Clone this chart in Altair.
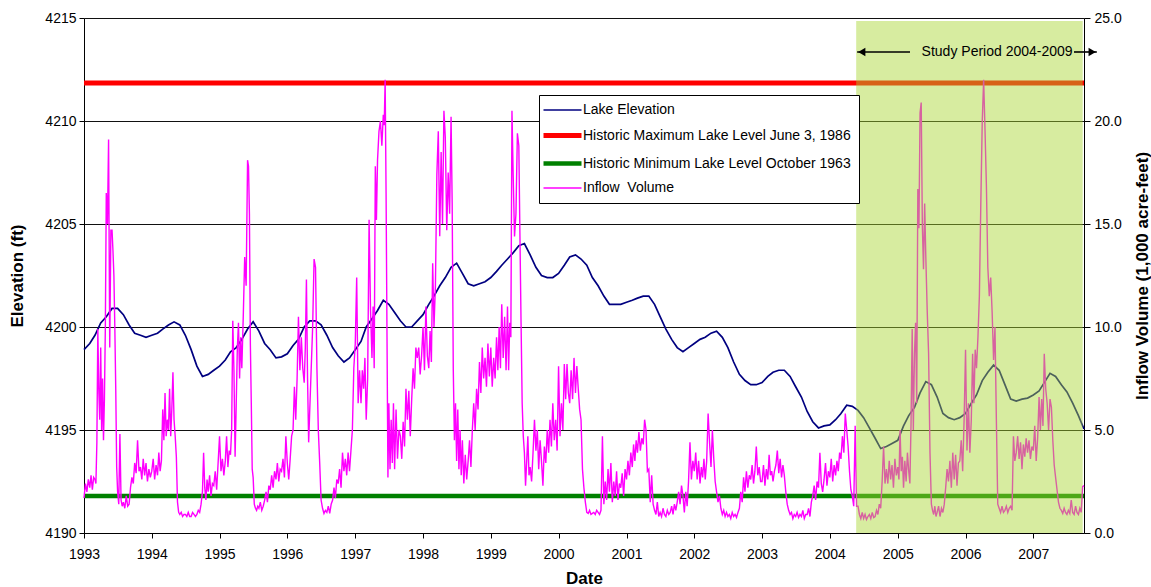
import altair as alt
import pandas as pd

FONT = "Liberation Sans"

# ---------------- series names / styles ----------------
series_names = ["Lake Elevation",
                "Historic Maximum Lake Level June 3, 1986",
                "Historic Minimum Lake Level October 1963",
                "Inflow\u00a0 Volume"]
series_colors = ["#000080", "#ff0000", "#008000", "#ff00ff"]
series_widths = [1.7, 5.0, 4.5, 1.4]

tick_years = list(range(1993, 2008))
elev_ticks = [4190, 4195, 4200, 4205, 4210, 4215]
inflow_ticks = [0, 5, 10, 15, 20, 25]

x_start = "1993-01-01"
x_end = "2007-10-01"
hist_max = 4211.85
hist_min = 4191.8

# ---------------- lake elevation (ft), first of each month ----------------
lake_1993 = [4198.9, 4199.2, 4199.6, 4200.2, 4200.5, 4200.9, 4200.9, 4200.6, 4200.1, 4199.7, 4199.6, 4199.5]
lake_1994 = [4199.6, 4199.7, 4199.9, 4200.1, 4200.25, 4200.1, 4199.6, 4198.9, 4198.1, 4197.6, 4197.7, 4197.9]
lake_1995 = [4198.1, 4198.4, 4198.8, 4199.0, 4199.4, 4199.9, 4200.25, 4199.8, 4199.2, 4198.9, 4198.5, 4198.55]
lake_1996 = [4198.7, 4199.1, 4199.4, 4200.0, 4200.3, 4200.3, 4200.1, 4199.6, 4199.0, 4198.6, 4198.3, 4198.5]
lake_1997 = [4198.9, 4199.3, 4200.0, 4200.4, 4200.8, 4201.3, 4201.1, 4200.7, 4200.3, 4200.0, 4200.0, 4200.3]
lake_1998 = [4200.6, 4201.1, 4201.5, 4202.0, 4202.4, 4202.9, 4203.1, 4202.6, 4202.1, 4202.0, 4202.1, 4202.2]
lake_1999 = [4202.4, 4202.7, 4203.0, 4203.3, 4203.6, 4203.95, 4204.05, 4203.5, 4202.9, 4202.5, 4202.4, 4202.4]
lake_2000 = [4202.6, 4203.0, 4203.4, 4203.5, 4203.3, 4203.0, 4202.4, 4202.0, 4201.5, 4201.1, 4201.1, 4201.1]
lake_2001 = [4201.2, 4201.3, 4201.4, 4201.5, 4201.5, 4201.1, 4200.5, 4199.9, 4199.4, 4199.0, 4198.8, 4199.0]
lake_2002 = [4199.2, 4199.4, 4199.5, 4199.7, 4199.8, 4199.5, 4199.0, 4198.3, 4197.7, 4197.4, 4197.2, 4197.2]
lake_2003 = [4197.3, 4197.6, 4197.8, 4197.9, 4197.9, 4197.6, 4197.1, 4196.6, 4195.9, 4195.4, 4195.1, 4195.2]
lake_2004 = [4195.25, 4195.5, 4195.8, 4196.2, 4196.15, 4195.95, 4195.6, 4195.1, 4194.6, 4194.1, 4194.2, 4194.35]
lake_2005 = [4194.5, 4195.2, 4195.7, 4196.1, 4196.8, 4197.35, 4197.2, 4196.6, 4195.8, 4195.6, 4195.5, 4195.6]
lake_2006 = [4195.8, 4196.3, 4196.7, 4197.4, 4197.8, 4198.15, 4197.9, 4197.2, 4196.5, 4196.4, 4196.5, 4196.55]
lake_2007 = [4196.7, 4196.9, 4197.3, 4197.75, 4197.6, 4197.2, 4196.85, 4196.3, 4195.7, 4195.05]

# ---------------- inflow volume (1,000 acre-feet), readings within each month ----------------
inflow_1993 = [[1.7, 2.4, 2.0, 2.6], [2.2, 2.8, 2.1, 2.7], [2.6, 2.4, 4.4, 9.9, 6.9, 5.5],
               [9.0, 5.0, 7.5, 4.5, 6.5, 10.0], [16.5, 15.0, 19.1, 9.0, 14.7], [14.7, 13.7, 12.5, 10.0, 7.0, 3.2],
               [2.0, 1.4, 4.8, 1.6, 1.3], [1.5, 1.2, 1.8, 1.3], [1.4, 2.2, 2.7, 2.4],
               [3.4, 2.9, 4.5, 3.0], [3.2, 2.6, 3.6, 2.8], [3.4, 2.5, 3.1, 2.7]]
inflow_1994 = [[3.0, 3.6, 2.6, 3.3], [2.8, 3.9, 3.0, 3.5], [6.0, 4.5, 6.8, 4.7, 5.5],
               [5.0, 7.0, 4.7, 6.0, 7.8], [5.5, 4.7, 3.7, 1.5, 1.0], [0.9, 1.0, 0.8, 0.9],
               [0.9, 0.8, 1.0, 0.8], [0.8, 1.0, 0.9, 0.8], [0.9, 1.1, 1.0, 1.4],
               [2.0, 3.9, 2.2, 1.6, 2.6], [2.0, 2.8, 1.8, 2.4], [2.3, 3.0, 2.1, 3.4]]
inflow_1995 = [[4.7, 3.0, 3.6, 2.8], [3.5, 4.7, 3.2, 4.0], [3.8, 5.0, 10.3, 7.9, 3.7],
               [6.3, 9.0, 10.2, 7.5, 9.5], [8.0, 10.5, 13.4, 12.0], [18.1, 17.8, 15.5, 9.2, 6.3, 3.1],
               [2.7, 1.4, 1.2, 1.1, 1.3], [1.2, 1.5, 1.1, 1.3], [1.6, 2.0, 1.5, 2.3],
               [2.1, 2.8, 2.2, 3.0], [2.6, 3.4, 2.5, 3.1], [3.0, 3.6, 2.7, 4.7]]
inflow_1996 = [[3.4, 2.6, 3.6, 4.7], [5.0, 7.1, 5.5, 7.5], [10.5, 7.9, 9.5, 8.0],
               [7.3, 9.0, 12.3, 7.5, 4.4], [6.0, 8.0, 10.0, 13.3], [12.9, 8.0, 5.0, 3.4],
               [1.6, 1.2, 0.95, 1.1], [1.0, 1.3, 0.95, 1.4], [1.6, 2.2, 1.7, 2.6],
               [2.4, 3.1, 2.2, 3.9], [3.0, 3.6, 2.8, 3.9], [3.0, 4.0, 5.0, 8.0]]
inflow_1997 = [[9.2, 12.4, 6.3, 7.9], [6.3, 7.9, 7.0, 8.5], [5.5, 7.5, 15.2, 10.8],
               [8.5, 11.0, 8.0, 17.8, 15.2], [18.1, 19.5, 20.0, 18.8], [20.3, 19.8, 22.0, 16.5, 9.5, 2.7],
               [6.3, 3.1, 5.5, 3.4, 6.3], [3.1, 6.0, 3.6, 5.0], [4.7, 3.6, 5.4, 4.2],
               [7.0, 5.5, 6.9, 4.7], [6.5, 8.0, 7.0, 9.0], [8.5, 9.0, 7.7, 8.6]]
inflow_1998 = [[10.0, 7.9, 11.0, 8.6], [8.0, 9.8, 8.3, 13.1], [10.0, 12.0, 17.4, 19.5],
               [14.4, 18.5, 15.0, 20.5], [19.2, 14.7, 17.5, 15.5], [20.2, 16.0, 7.9, 4.5, 6.3],
               [3.5, 6.0, 3.1, 5.0, 2.8], [4.5, 2.4, 3.8, 2.6], [3.5, 4.5, 3.2, 5.0],
               [6.3, 5.0, 7.0, 6.0], [8.3, 6.8, 9.0, 7.5], [8.5, 7.1, 9.2, 7.6]]
inflow_1999 = [[9.0, 7.1, 8.5, 7.5], [9.5, 7.9, 10.0, 8.0], [11.1, 8.5, 10.5, 7.9],
               [11.0, 7.9, 10.2, 9.5, 20.5], [17.6, 14.4, 15.5, 19.4], [18.8, 14.4, 10.2, 6.3, 4.7],
               [3.9, 2.3, 3.5, 4.7, 2.8], [3.2, 2.5, 3.9, 5.5], [4.0, 5.0, 3.1, 4.5],
               [3.5, 2.3, 4.2, 3.4], [5.0, 3.9, 5.5, 4.2], [6.3, 4.5, 5.5, 4.0]]
inflow_2000 = [[8.1, 4.7, 6.3, 5.0], [8.2, 6.5, 8.2, 6.8], [6.3, 7.9, 6.5, 8.5],
               [6.8, 8.1, 7.0, 6.0], [5.5, 3.1, 2.2, 1.5], [1.0, 0.95, 1.1, 0.9],
               [0.95, 1.0, 0.9, 1.1], [1.0, 0.9, 1.1, 4.7], [1.4, 2.5, 1.6, 3.1],
               [2.0, 3.4, 1.5, 2.5], [1.8, 3.0, 1.6, 2.4], [2.2, 2.9, 1.8, 3.1]]
inflow_2001 = [[2.6, 3.5, 2.8, 3.9], [3.2, 4.3, 3.5, 4.5], [3.9, 4.9, 4.0, 4.6],
               [4.3, 5.5, 5.0, 3.0], [3.1, 1.5, 2.8, 1.4], [1.1, 0.9, 1.5, 0.8],
               [1.0, 0.8, 1.2, 0.9], [0.8, 1.1, 0.9, 1.0], [1.3, 0.9, 1.4, 1.1],
               [1.5, 2.0, 1.4, 2.3], [1.8, 1.0, 2.0, 1.3], [2.5, 4.4, 2.6, 3.5]]
inflow_2002 = [[3.0, 3.9, 2.6, 3.5], [2.4, 3.2, 2.7, 3.6], [2.6, 3.5, 5.8, 4.4],
               [3.2, 5.0, 3.6, 2.5], [2.0, 1.5, 1.8, 1.2], [0.9, 1.1, 0.8, 1.0],
               [0.8, 0.9, 0.7, 1.0], [0.8, 0.9, 0.75, 1.0], [1.2, 2.0, 1.5, 2.7],
               [2.0, 3.0, 2.2, 2.8], [2.6, 3.3, 2.4, 3.0], [4.2, 2.8, 3.2, 2.5]]
inflow_2003 = [[2.5, 3.3, 2.3, 3.1], [2.6, 3.8, 2.8, 3.0], [2.5, 3.0, 3.3, 4.0],
               [2.9, 3.6, 2.7, 3.3], [2.8, 2.0, 1.4, 1.1], [0.9, 1.0, 0.7, 0.9],
               [0.8, 1.0, 0.75, 0.9], [0.8, 1.1, 0.7, 0.9], [0.9, 1.2, 0.8, 1.5],
               [1.8, 2.3, 1.6, 2.5], [2.2, 3.9, 2.4, 2.0], [2.6, 3.4, 2.3, 3.0]]
inflow_2004 = [[2.7, 3.6, 2.5, 3.3], [2.8, 3.5, 3.0, 3.9], [3.6, 4.7, 3.9, 5.8],
               [5.0, 4.2, 3.0, 2.1], [1.8, 1.3, 5.2, 1.3], [1.3, 0.9, 0.7, 1.0],
               [0.7, 0.9, 0.65, 0.8], [0.9, 0.7, 1.0, 0.75], [0.8, 1.1, 0.9, 1.4],
               [1.2, 2.5, 4.2, 2.4], [3.1, 2.4, 3.5, 2.6], [3.3, 2.2, 3.6, 2.8]]
inflow_2005 = [[3.2, 2.6, 5.0, 3.0, 3.7], [2.2, 3.5, 2.5, 3.9], [3.0, 2.4, 5.3, 9.9, 5.0],
               [8.7, 10.2, 6.3, 16.7, 14.8], [20.4, 20.9, 14.9, 12.8, 16.0], [13.4, 10.8, 8.7, 3.9],
               [1.4, 1.1, 0.9, 1.3, 0.8], [1.0, 1.3, 0.8, 1.2], [1.0, 1.4, 2.2, 3.1],
               [2.5, 3.5, 2.2, 3.9], [2.6, 3.8, 2.3, 3.4], [3.5, 4.5, 3.0, 5.5]]
inflow_2006 = [[8.9, 4.0, 6.3, 3.9], [5.5, 8.7, 6.3, 8.9], [8.0, 9.5, 11.5, 16.0],
               [20.0, 22.0, 19.5, 16.8], [12.9, 11.5, 12.4, 10.7], [8.4, 10.0, 5.5, 1.4],
               [1.2, 1.0, 1.3, 1.0], [1.1, 1.3, 1.0, 1.2], [1.3, 1.1, 4.7, 3.5],
               [3.9, 4.7, 3.6, 4.4], [3.1, 4.3, 3.7, 4.6], [3.9, 4.5, 3.6, 4.2]]
inflow_2007 = [[4.0, 5.2, 3.5, 4.6], [6.6, 5.0, 6.5, 5.2], [8.7, 7.0, 6.3, 5.0],
               [6.5, 6.1, 4.5, 3.3], [2.7, 2.1, 1.5, 1.2], [1.1, 0.95, 1.2, 1.0],
               [0.9, 1.1, 0.95, 1.6], [1.0, 0.9, 1.3, 1.0], [0.9, 1.2, 1.0, 2.25], [2.3]]

# ---------------- study period annotation ----------------
study_start = "2004-05-22"
study_end = "2007-09-24"
study_top = 4214.85
study_label = "Study Period 2004-2009"
label_date = "2006-06-20"
label_elev = 4213.35
arrow_left = ["2004-05-27", "2005-03-08"]    # tip, tail
arrow_right = ["2007-08-08", "2007-12-09"]   # tail, tip

# ---------------- build tables ----------------
lake_lists = [lake_1993, lake_1994, lake_1995, lake_1996, lake_1997, lake_1998, lake_1999, lake_2000,
              lake_2001, lake_2002, lake_2003, lake_2004, lake_2005, lake_2006, lake_2007]
inflow_lists = [inflow_1993, inflow_1994, inflow_1995, inflow_1996, inflow_1997, inflow_1998, inflow_1999,
                inflow_2000, inflow_2001, inflow_2002, inflow_2003, inflow_2004, inflow_2005, inflow_2006,
                inflow_2007]

lake_rows = []
for yr, vals in zip(tick_years, lake_lists):
    for m, v in enumerate(vals):
        lake_rows.append({"date": pd.Timestamp(yr, m + 1, 1), "elev": v, "series": series_names[0]})
lake_df = pd.DataFrame(lake_rows)

inflow_rows = []
for yr, months in zip(tick_years, inflow_lists):
    for m, vals in enumerate(months):
        start = pd.Timestamp(yr, m + 1, 1)
        end = start + pd.offsets.MonthBegin(1)
        n = len(vals)
        for i, v in enumerate(vals):
            inflow_rows.append({"date": start + (end - start) * (i / n), "inflow": v,
                                "series": series_names[3]})
inflow_df = pd.DataFrame(inflow_rows)

hist_df = pd.DataFrame([
    {"date": pd.Timestamp(x_start), "elev": hist_max, "series": series_names[1]},
    {"date": pd.Timestamp(x_end), "elev": hist_max, "series": series_names[1]},
    {"date": pd.Timestamp(x_start), "elev": hist_min, "series": series_names[2]},
    {"date": pd.Timestamp(x_end), "elev": hist_min, "series": series_names[2]},
])

band_df = pd.DataFrame([{"start": pd.Timestamp(study_start), "end": pd.Timestamp(study_end),
                         "top": study_top, "bottom": 4190}])
arrow_df = pd.DataFrame([
    {"a": pd.Timestamp(arrow_left[0]), "b": pd.Timestamp(arrow_left[1]), "elev": label_elev},
    {"a": pd.Timestamp(arrow_right[0]), "b": pd.Timestamp(arrow_right[1]), "elev": label_elev},
])
head_df = pd.DataFrame([
    {"date": pd.Timestamp(arrow_left[0]) + pd.Timedelta(days=25), "elev": label_elev, "shape": "triangle-left"},
    {"date": pd.Timestamp(arrow_right[1]) - pd.Timedelta(days=25), "elev": label_elev, "shape": "triangle-right"},
])
label_df = pd.DataFrame([{"date": pd.Timestamp(label_date), "elev": label_elev, "text": study_label}])

# ---------------- encodings ----------------
x_scale = alt.Scale(domain=[alt.DateTime(year=1993, month=1, date=1), alt.DateTime(year=2007, month=10, date=1)])
x_axis = alt.Axis(values=[alt.DateTime(year=y, month=1, date=1) for y in tick_years], format="%Y",
                  title="Date", grid=False, tickSize=5, labelPadding=9, titlePadding=9,
                  labelFlush=False, labelOverlap=False)
elev_scale = alt.Scale(domain=[4190, 4215], nice=False, zero=False)
inflow_scale = alt.Scale(domain=[0, 25], nice=False, zero=True)

legend = alt.Legend(orient="none", legendX=455, legendY=77, title=None,
                    symbolType="M-2.2,0H5.4", symbolSize=100,
                    labelFont=FONT, labelFontSize=14, labelColor="black", labelLimit=500,
                    fillColor="white", strokeColor="black", padding=8, rowPadding=8, labelOffset=21)
color_enc = alt.Color("series:N", scale=alt.Scale(domain=series_names, range=series_colors), legend=legend)
width_enc = alt.StrokeWidth("series:N",
                            scale=alt.Scale(type="ordinal", domain=series_names, range=series_widths),
                            legend=legend)

X = alt.X("date:T", scale=x_scale, axis=x_axis)

lake = alt.Chart(lake_df).mark_line().encode(
    x=X,
    y=alt.Y("elev:Q", scale=elev_scale,
            axis=alt.Axis(values=elev_ticks, format="d", title="Elevation (ft)", grid=True,
                          tickSize=5, labelPadding=3, titlePadding=18)),
    color=color_enc, strokeWidth=width_enc)

hist = alt.Chart(hist_df).mark_line().encode(
    x=X, y=alt.Y("elev:Q", scale=elev_scale), color=color_enc, strokeWidth=width_enc)

left = alt.layer(lake, hist)

inflow = alt.Chart(inflow_df).mark_line().encode(
    x=X,
    y=alt.Y("inflow:Q", scale=inflow_scale,
            axis=alt.Axis(orient="right", values=inflow_ticks, format=".1f",
                          title="Inflow Volume (1,000 acre-feet)", grid=False, tickSize=6,
                          labelPadding=4, titlePadding=13, titleAngle=270, titleBaseline="top")),
    color=color_enc, strokeWidth=width_enc)

ov_scale = alt.Scale(domain=[4190, 4215], nice=False, zero=False)
band = alt.Chart(band_df).mark_rect(color="#a8d530", opacity=0.46).encode(
    x=alt.X("start:T", scale=x_scale), x2="end:T",
    y=alt.Y("top:Q", scale=ov_scale, axis=None), y2="bottom:Q")
arrows = alt.Chart(arrow_df).mark_rule(color="black", strokeWidth=1.6).encode(
    x=alt.X("a:T", scale=x_scale), x2="b:T", y=alt.Y("elev:Q", scale=ov_scale, axis=None))
heads = alt.Chart(head_df).mark_point(filled=True, color="black", size=70, opacity=1).encode(
    x=alt.X("date:T", scale=x_scale), y=alt.Y("elev:Q", scale=ov_scale, axis=None),
    shape=alt.Shape("shape:N", scale=None))
label = alt.Chart(label_df).mark_text(font=FONT, fontSize=14, color="black").encode(
    x=alt.X("date:T", scale=x_scale), y=alt.Y("elev:Q", scale=ov_scale, axis=None), text="text:N")

overlay = alt.layer(band, arrows, heads, label)

chart = alt.layer(left, inflow, overlay).resolve_scale(y="independent").properties(
    width=1000, height=515,
    padding={"left": 8, "top": 11, "right": 0, "bottom": 0},
).configure_view(strokeWidth=0).configure_axis(
    labelFont=FONT, labelFontSize=14, labelColor="black",
    titleFont=FONT, titleFontSize=17, titleFontWeight="bold", titleColor="black",
    domainColor="black", domainWidth=1, tickColor="black", tickWidth=1,
    gridColor="#111111", gridWidth=1,
)

chart.save("out.html", embed_options={"renderer": "svg", "actions": False})
